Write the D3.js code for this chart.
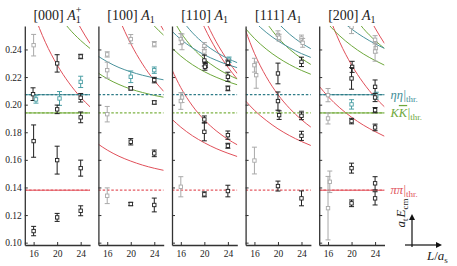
<!DOCTYPE html>
<html>
<head>
<meta charset="utf-8">
<script src="https://d3js.org/d3.v7.min.js"></script>
<style>
body { margin: 0; background: #fff; }
svg text { font-family: "Liberation Serif", "DejaVu Serif", serif; }
</style>
</head>
<body>
<script>
var W = 457, H = 266;

// Frames (title) and irrep superscript
var frames = ["[000]", "[100]", "[110]", "[111]", "[200]"];
var irrepSup = ["+", "", "", "", ""];

// Axis ticks
var yTicks = [0.10, 0.12, 0.14, 0.16, 0.18, 0.20, 0.22, 0.24];
var xTicks = [16, 20, 24];

// Thresholds
var thrNames = ["pipi", "KK", "etaeta"];
var thrValues = [0.138, 0.194, 0.2072];

// Non-interacting levels, values at these L/a_s
var Lgrid = [14.5, 16, 18, 20, 22, 24, 25.6];

var curves000 = [
  {ch: "pipi", v: [0.138, 0.138, 0.138, 0.138, 0.138, 0.138, 0.138]},
  {ch: "KK", v: [0.194, 0.194, 0.194, 0.194, 0.194, 0.194, 0.194]},
  {ch: "etaeta", v: [0.2072, 0.2072, 0.2072, 0.2072, 0.2072, 0.2072, 0.2072]},
  {ch: "pipi", v: [0.2870, 0.2666, 0.2452, 0.2288, 0.2158, 0.2053, 0.1984]},
  {ch: "pipi", v: [null, null, null, null, 0.2721, 0.2555, 0.2443]},
  {ch: "KK", v: [null, null, null, 0.2663, 0.2552, 0.2465, 0.2407]}
];
var curves100 = [
  {ch: "pipi", v: [0.1713, 0.1671, 0.1626, 0.1591, 0.1562, 0.1539, 0.1524]},
  {ch: "pipi", v: [null, 0.2869, 0.2628, 0.2442, 0.2294, 0.2175, 0.2096]},
  {ch: "pipi", v: [null, null, null, null, 0.2835, 0.2657, 0.2537]},
  {ch: "KK", v: [0.2228, 0.2188, 0.2146, 0.2113, 0.2088, 0.2067, 0.2054]},
  {ch: "KK", v: [null, null, null, null, 0.2672, 0.2570, 0.2503]},
  {ch: "etaeta", v: [0.2350, 0.2311, 0.2269, 0.2238, 0.2213, 0.2193, 0.2180]}
];
var curves110 = [
  {ch: "pipi", v: [0.2252, 0.2123, 0.1990, 0.1889, 0.1811, 0.1749, 0.1709]},
  {ch: "pipi", v: [0.1894, 0.1837, 0.1774, 0.1724, 0.1682, 0.1648, 0.1624]},
  {ch: "pipi", v: [null, null, 0.2763, 0.2561, 0.2401, 0.2272, 0.2185]},
  {ch: "pipi", v: [null, null, null, 0.2626, 0.2456, 0.2318, 0.2225]},
  {ch: "KK", v: [0.2632, 0.2523, 0.2412, 0.2330, 0.2267, 0.2218, 0.2186]},
  {ch: "KK", v: [0.2411, 0.2352, 0.2289, 0.2239, 0.2199, 0.2166, 0.2144]},
  {ch: "etaeta", v: [0.2731, 0.2626, 0.2520, 0.2441, 0.2381, 0.2334, 0.2304]},
  {ch: "etaeta", v: [0.2532, 0.2473, 0.2411, 0.2361, 0.2322, 0.2289, 0.2268]}
];
var curves111 = [
  {ch: "pipi", v: [0.2027, 0.1959, 0.1886, 0.1825, 0.1775, 0.1733, 0.1704]},
  {ch: "pipi", v: [0.2536, 0.2372, 0.2203, 0.2073, 0.1972, 0.1891, 0.1837]},
  {ch: "KK", v: [0.2551, 0.2480, 0.2403, 0.2341, 0.2290, 0.2248, 0.2220]},
  {ch: "KK", v: [null, null, 0.2596, 0.2486, 0.2401, 0.2335, 0.2291]},
  {ch: "etaeta", v: [0.2673, 0.2602, 0.2524, 0.2462, 0.2412, 0.2370, 0.2342]},
  {ch: "etaeta", v: [null, null, 0.2670, 0.2591, 0.2510, 0.2446, 0.2405]}
];
var curves200 = [
  {ch: "pipi", v: [0.138, 0.138, 0.138, 0.138, 0.138, 0.138, 0.138]},
  {ch: "KK", v: [0.194, 0.194, 0.194, 0.194, 0.194, 0.194, 0.194]},
  {ch: "etaeta", v: [0.2072, 0.2072, 0.2072, 0.2072, 0.2072, 0.2072, 0.2072]},
  {ch: "pipi", v: [0.2134, 0.2059, 0.1977, 0.1909, 0.1852, 0.1805, 0.1771]},
  {ch: "pipi", v: [0.2870, 0.2666, 0.2452, 0.2288, 0.2158, 0.2053, 0.1984]},
  {ch: "pipi", v: [null, null, null, null, 0.2721, 0.2555, 0.2443]},
  {ch: "KK", v: [0.2667, 0.2586, 0.2498, 0.2427, 0.2368, 0.2320, 0.2286]},
  {ch: "KK", v: [null, null, null, 0.2663, 0.2552, 0.2465, 0.2407]},
  {ch: "etaeta", v: [null, null, 0.2620, 0.2548, 0.2490, 0.2441, 0.2408]}
];

// Lattice levels: [L/a_s, a_t E_cm, error, kind]  b = black, g = grey, t = teal
var pts000 = [
  [16, 0.2431, 0.0078, "g"], [15.9, 0.2076, 0.0046, "b"], [16.4, 0.2038, 0.0027, "t"],
  [16, 0.1736, 0.0117, "b"], [16, 0.1084, 0.0034, "b"],
  [20, 0.2299, 0.0063, "b"], [20.4, 0.2045, 0.0050, "t"], [20, 0.1966, 0.0031, "b"],
  [20, 0.1598, 0.0101, "b"], [20, 0.1183, 0.0029, "b"],
  [24, 0.2349, 0.0016, "b"], [24, 0.2165, 0.0041, "t"], [24, 0.2050, 0.0031, "b"],
  [24, 0.1908, 0.0039, "b"], [24, 0.1540, 0.0058, "b"], [24, 0.1231, 0.0036, "b"]
];
var pts100 = [
  [16, 0.2364, 0.0019, "g"], [16, 0.2250, 0.0058, "g"], [16, 0.1931, 0.0056, "g"],
  [16, 0.1340, 0.0057, "g"],
  [20, 0.2475, 0.0033, "g"], [20, 0.2202, 0.0042, "t"], [20, 0.2118, 0.0012, "b"],
  [20, 0.1731, 0.0023, "b"], [20, 0.1280, 0.0012, "b"],
  [24, 0.2438, 0.0019, "g"], [24, 0.2250, 0.0023, "t"], [24, 0.2178, 0.0020, "b"],
  [24, 0.2016, 0.0012, "b"], [24, 0.1647, 0.0024, "b"], [24, 0.1273, 0.0050, "b"]
];
var pts110 = [
  [16, 0.2475, 0.0040, "g"], [16.2, 0.2455, 0.0057, "g"], [16.2, 0.2052, 0.0036, "g"],
  [16, 0.2026, 0.0060, "g"], [16, 0.1405, 0.0073, "g"],
  [20, 0.2425, 0.0025, "g"], [20, 0.2385, 0.0030, "g"], [20, 0.2320, 0.0040, "b"],
  [20.2, 0.2288, 0.0020, "b"], [20.1, 0.2275, 0.0025, "b"], [20, 0.1893, 0.0025, "b"],
  [20, 0.1803, 0.0065, "b"], [20, 0.1350, 0.0018, "b"],
  [24.2, 0.2325, 0.0020, "t"], [24, 0.2303, 0.0020, "b"], [24, 0.2202, 0.0033, "b"],
  [24, 0.2118, 0.0017, "b"], [24, 0.1779, 0.0030, "b"], [24, 0.1702, 0.0018, "b"],
  [24, 0.1374, 0.0042, "b"]
];
var pts111 = [
  [16, 0.2286, 0.0050, "g"], [16.3, 0.2214, 0.0095, "g"], [16, 0.1595, 0.0097, "g"],
  [20, 0.2505, 0.0030, "g"], [20.2, 0.2485, 0.0025, "g"], [20, 0.2226, 0.0075, "b"],
  [20, 0.2026, 0.0066, "b"], [20.2, 0.1924, 0.0031, "b"], [20, 0.1410, 0.0036, "b"],
  [24, 0.2480, 0.0024, "g"], [24.2, 0.2448, 0.0032, "g"], [24, 0.2310, 0.0034, "b"],
  [24, 0.1935, 0.0020, "g"], [24, 0.1919, 0.0028, "b"], [24, 0.1774, 0.0033, "b"],
  [24, 0.1321, 0.0054, "b"]
];
var pts200 = [
  [16, 0.2069, 0.0048, "g"], [16, 0.1900, 0.0040, "g"], [16.3, 0.1441, 0.0078, "g"],
  [16, 0.1250, 0.0230, "g"],
  [20, 0.2565, 0.0050, "g"], [20.1, 0.2274, 0.0040, "b"], [20, 0.2190, 0.0078, "b"],
  [20, 0.2002, 0.0034, "t"], [20, 0.1881, 0.0020, "b"], [20, 0.1540, 0.0036, "b"],
  [20, 0.1285, 0.0024, "b"],
  [24, 0.2470, 0.0030, "g"], [24.1, 0.2410, 0.0035, "g"], [24, 0.2385, 0.0070, "g"],
  [24, 0.2129, 0.0050, "b"], [24.2, 0.2065, 0.0025, "t"], [24, 0.2052, 0.0030, "b"],
  [24, 0.1960, 0.0019, "b"], [24, 0.1835, 0.0024, "b"], [24, 0.1430, 0.0048, "b"],
  [24, 0.1321, 0.0048, "b"]
];

var allCurves = [curves000, curves100, curves110, curves111, curves200];
var allPts = [pts000, pts100, pts110, pts111, pts200];

// Colours
var curveColor = {pipi: "#e0505a", KK: "#6ea83c", etaeta: "#4a929c"};
var dashColor = {pipi: "#e45a62", KK: "#7eb244", etaeta: "#2f7c88"};
var ptColor = {b: "#1e1e1e", g: "#a9a9a9", t: "#4a9ea4"};

// Layout
var left0 = 24.8, panelW = 65.3, step = 73.6, plotTop = 26, plotBottom = 245;
var x = d3.scaleLinear().domain([14.5, 25.6]).range([0, panelW]);
var y = d3.scaleLinear().domain([0.0983, 0.257]).range([plotBottom, plotTop]);

var svg = d3.select("body").append("svg")
    .attr("width", W).attr("height", H);

var lineGen = d3.line()
    .defined(function(d) { return d[1] != null; })
    .x(function(d) { return x(d[0]); })
    .y(function(d) { return y(d[1]); })
    .curve(d3.curveMonotoneX);

frames.forEach(function(fr, i) {
    var g = svg.append("g").attr("transform", "translate(" + (left0 + i * step) + ",0)");

    g.append("clipPath").attr("id", "clip" + i)
      .append("rect").attr("x", 0).attr("y", plotTop).attr("width", panelW).attr("height", plotBottom - plotTop);
    var plot = g.append("g").attr("clip-path", "url(#clip" + i + ")");

    // non-interacting curves
    allCurves[i].forEach(function(c) {
        plot.append("path")
            .datum(Lgrid.map(function(L, j) { return [L, c.v[j]]; }))
            .attr("d", lineGen)
            .attr("fill", "none")
            .attr("stroke", curveColor[c.ch])
            .attr("stroke-width", 1);
    });

    // thresholds (dashed)
    thrValues.forEach(function(v, j) {
        plot.append("line")
            .attr("x1", 0).attr("x2", panelW)
            .attr("y1", y(v)).attr("y2", y(v))
            .attr("stroke", dashColor[thrNames[j]])
            .attr("stroke-width", 1.2)
            .attr("stroke-dasharray", "2.5,1.8");
    });

    // lattice levels
    var pg = plot.selectAll(".pt").data(allPts[i]).enter().append("g").attr("class", "pt");
    pg.append("line")
        .attr("x1", function(d) { return x(d[0]); }).attr("x2", function(d) { return x(d[0]); })
        .attr("y1", function(d) { return y(d[1] - d[2]); }).attr("y2", function(d) { return y(d[1] + d[2]); })
        .attr("stroke", function(d) { return ptColor[d[3]]; }).attr("stroke-width", 1);
    [-1, 1].forEach(function(s) {
        pg.append("line")
            .attr("x1", function(d) { return x(d[0]) - 2.5; }).attr("x2", function(d) { return x(d[0]) + 2.5; })
            .attr("y1", function(d) { return y(d[1] + s * d[2]); }).attr("y2", function(d) { return y(d[1] + s * d[2]); })
            .attr("stroke", function(d) { return ptColor[d[3]]; }).attr("stroke-width", 1);
    });
    pg.append("rect")
        .attr("x", function(d) { return x(d[0]) - 1.7; })
        .attr("y", function(d) { return y(d[1]) - 1.7; })
        .attr("width", 3.4).attr("height", 3.4)
        .attr("fill", "#fff")
        .attr("stroke", function(d) { return ptColor[d[3]]; }).attr("stroke-width", 0.9);

    // axes
    var ya = g.append("g").call(d3.axisLeft(y).tickValues(yTicks).tickSize(-3).tickSizeOuter(0)
        .tickPadding(3).tickFormat(i === 0 ? d3.format(".2f") : ""));
    var xa = g.append("g").attr("transform", "translate(0," + plotBottom + ")")
        .call(d3.axisBottom(x).tickValues(xTicks).tickSize(-3).tickSizeOuter(0).tickPadding(5));
    [ya, xa].forEach(function(a) {
        a.select(".domain").attr("stroke", "#333").attr("stroke-width", 1.3);
        a.selectAll(".tick line").attr("stroke", "#333");
        a.selectAll("text").attr("font-family", "Liberation Serif").attr("font-size", 9.5).attr("fill", "#222");
    });

    // title
    var t = g.append("text").attr("x", panelW / 2).attr("y", 20)
        .attr("text-anchor", "middle").attr("font-size", 14).attr("fill", "#222");
    t.append("tspan").text(fr + " ");
    t.append("tspan").attr("font-style", "italic").text("A");
    t.append("tspan").attr("font-size", 10).attr("dy", 3).text("1");
    if (irrepSup[i]) {
        t.append("tspan").attr("font-size", 10).attr("dx", -5).attr("dy", -10).text(irrepSup[i]);
    }
});

// threshold labels on the right
var lx = left0 + 4 * step + panelW + 6;
function thrLabel(v, color, build) {
    var t = svg.append("text").attr("x", lx).attr("y", y(v) + 4)
        .attr("font-size", 12.5).attr("fill", color);
    build(t);
    t.append("tspan").attr("dx", 0.5).text("|");
    t.append("tspan").attr("font-size", 9).attr("dy", 3).text("thr.");
}
thrLabel(thrValues[2], "#3e8e98", function(t) {
    t.append("tspan").attr("font-style", "italic").text("ηη");
});
thrLabel(thrValues[1], "#6ea83c", function(t) {
    t.append("tspan").attr("font-style", "italic").text("K");
    t.append("tspan").attr("font-style", "italic").style("text-decoration", "overline").text("K");
});
thrLabel(thrValues[0], "#e0505a", function(t) {
    t.append("tspan").attr("font-style", "italic").text("ππ");
});

// axis hint: a_t E_cm and L/a_s arrows
var ox = 412, oy = 245;
var yl = svg.append("text").attr("transform", "translate(405,213) rotate(-90)")
    .attr("text-anchor", "middle").attr("font-size", 13).attr("fill", "#222");
yl.append("tspan").attr("font-style", "italic").text("a");
yl.append("tspan").attr("font-size", 9).attr("dy", 3).text("t");
yl.append("tspan").attr("font-style", "italic").attr("dy", -3).attr("dx", 1).text("E");
yl.append("tspan").attr("font-size", 9).attr("dy", 3).text("cm");

svg.append("line").attr("x1", ox).attr("x2", ox).attr("y1", oy + 2).attr("y2", 219)
    .attr("stroke", "#111").attr("stroke-width", 1.2);
svg.append("path").attr("d", "M" + ox + ",214 l-3,6 l6,0 z").attr("fill", "#111");
svg.append("line").attr("x1", 405).attr("x2", 437).attr("y1", oy).attr("y2", oy)
    .attr("stroke", "#111").attr("stroke-width", 1.2);
svg.append("path").attr("d", "M442," + oy + " l-6,-3 l0,6 z").attr("fill", "#111");

var xl = svg.append("text").attr("x", 427).attr("y", 260).attr("font-size", 13).attr("fill", "#222");
xl.append("tspan").attr("font-style", "italic").text("L");
xl.append("tspan").text("/");
xl.append("tspan").attr("font-style", "italic").text("a");
xl.append("tspan").attr("font-size", 9).attr("dy", 3).text("s");
</script>
</body>
</html>
